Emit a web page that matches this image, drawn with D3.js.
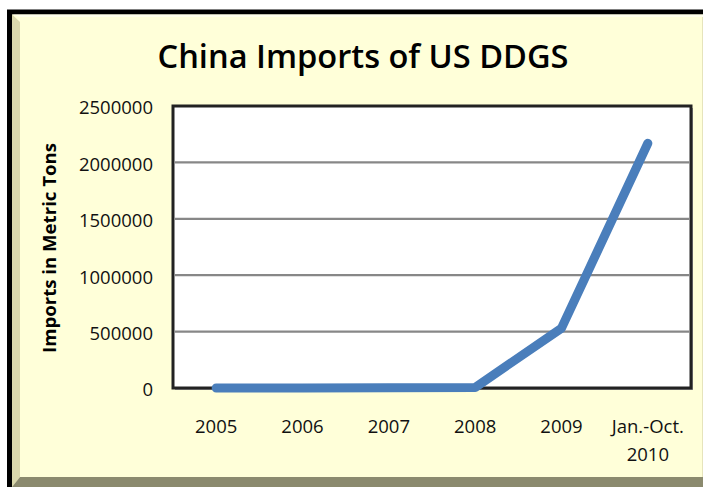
<!DOCTYPE html>
<html><head><meta charset="utf-8">
<script src="https://cdn.jsdelivr.net/npm/d3@7"></script>
<style>body{margin:0;background:#fff;overflow:hidden}</style></head>
<body><svg id="c" width="703" height="487"></svg>
<script>
const categories = ["2005", "2006", "2007", "2008", "2009", "Jan.-Oct.|2010"];
const imports = [300, 1000, 2000, 5000, 530000, 2170000];
const yTicks = [0, 500000, 1000000, 1500000, 2000000, 2500000];
const titleText = "China Imports of US DDGS";
const yTitleText = "Imports in Metric Tons";

const svg = d3.select("#c");
const font = "'Open Sans', sans-serif";

// outer chart frame
svg.append("rect").attr("x", 9.5).attr("y", 12).attr("width", 720).attr("height", 500)
  .attr("fill", "#FFFFD9").attr("stroke", "#000").attr("stroke-width", 5);
// left bevel
svg.append("polygon").attr("points", "12,14.5 20,22 20,477 12,487").attr("fill", "#DAD8AC");
// bottom bevel
svg.append("polygon").attr("points", "12,487 20,477 710,477 710,487").attr("fill", "#8B8A6E");
// top highlight
svg.append("polygon").attr("points", "12,14.5 710,14.5 710,17 20,17").attr("fill", "#FFFFEC");
// right bevel edge
svg.append("rect").attr("x", 702).attr("y", 17).attr("width", 2).attr("height", 460).attr("fill", "#E6E4BC");

const m = {left: 173, top: 106, right: 691, bottom: 388};
const x = d3.scalePoint().domain(categories).range([m.left, m.right]).padding(0.5);
const y = d3.scaleLinear().domain([0, 2500000]).range([m.bottom, m.top]);

// plot frame with shadow
svg.append("rect").attr("x", m.left + 2).attr("y", m.top + 2)
  .attr("width", m.right - m.left).attr("height", m.bottom - m.top).attr("fill", "#9a9a9a");
svg.append("rect").attr("x", m.left).attr("y", m.top)
  .attr("width", m.right - m.left).attr("height", m.bottom - m.top)
  .attr("fill", "#fff").attr("stroke", "#222").attr("stroke-width", 3);

// gridlines
svg.append("g").selectAll("line").data(yTicks.filter(d => d > 0 && d < 2500000)).join("line")
  .attr("x1", m.left + 1.5).attr("x2", m.right - 1.5)
  .attr("y1", d => y(d)).attr("y2", d => y(d))
  .attr("stroke", "#878787").attr("stroke-width", 2.2);

// y axis
const yAxis = svg.append("g").attr("transform", `translate(${m.left},2)`)
  .call(d3.axisLeft(y).tickValues(yTicks).tickSize(0).tickPadding(20).tickFormat(d3.format("d")));
yAxis.select(".domain").remove();
yAxis.selectAll("text").attr("font-family", font).attr("font-size", "18.5px").attr("fill", "#111");

// x axis labels
const xl = svg.append("g").selectAll("text").data(categories).join("text")
  .attr("x", d => x(d)).attr("y", 433).attr("text-anchor", "middle")
  .attr("font-family", font).attr("font-size", "18.5px").attr("fill", "#111");
xl.each(function(d) {
  const parts = d.split("|");
  const t = d3.select(this);
  parts.forEach((p, i) => t.append("tspan").attr("x", x(d)).attr("dy", i === 0 ? 0 : 28).text(p));
});

// line
const line = d3.line().x((d, i) => x(categories[i])).y(d => y(d));
svg.append("path").datum(imports).attr("d", line)
  .attr("fill", "none").attr("stroke", "#4A7EBB").attr("stroke-width", 9)
  .attr("stroke-linecap", "round").attr("stroke-linejoin", "round");

// title
const t = svg.append("text").attr("x", 363).attr("y", 68).attr("text-anchor", "middle")
  .attr("font-family", font).attr("font-weight", 600).attr("font-size", "33px").attr("fill", "#000")
  .text(titleText);
if (t.node().getComputedTextLength() > 411) t.attr("textLength", 411).attr("lengthAdjust", "spacingAndGlyphs");

// y title
svg.append("text").attr("transform", "translate(56,248) rotate(-90)")
  .attr("text-anchor", "middle").attr("font-family", font).attr("font-weight", 700)
  .attr("font-size", "17px").attr("fill", "#000")
  .attr("textLength", 210).attr("lengthAdjust", "spacingAndGlyphs")
  .text(yTitleText);
</script></body></html>
